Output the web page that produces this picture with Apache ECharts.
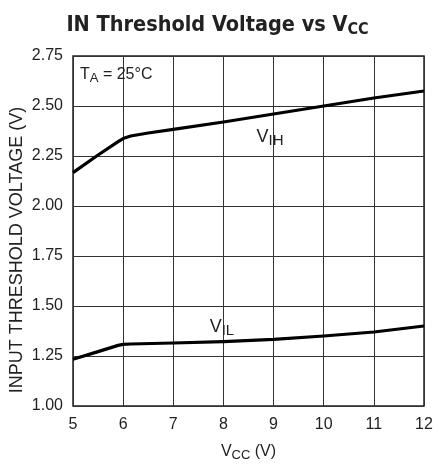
<!DOCTYPE html>
<html><head><meta charset="utf-8">
<script src="https://cdn.jsdelivr.net/npm/echarts@6/dist/echarts.min.js"></script>
<style>html,body{margin:0;padding:0;background:#fff}#c{width:435px;height:467px}</style>
</head><body><div id="c"></div>
<script>
const xTicks = [5, 6, 7, 8, 9, 10, 11, 12];
const yTicks = [1.00, 1.25, 1.50, 1.75, 2.00, 2.25, 2.50, 2.75];
const vihX = [5, 5.5, 5.9, 6, 6.15, 6.5, 7, 8, 9, 10, 11, 12];
const vihY = [2.167, 2.255, 2.322, 2.337, 2.35, 2.365, 2.383, 2.42, 2.46, 2.50, 2.54, 2.575];
const vilX = [5, 5.5, 5.9, 6, 6.15, 7, 8, 9, 10, 11, 12];
const vilY = [1.234, 1.272, 1.303, 1.308, 1.31, 1.315, 1.322, 1.333, 1.35, 1.37, 1.40];
const labelVIH = [8.93, 2.345];
const labelVIL = [7.97, 1.395];
const labelTA = [5.14, 2.655];

const FONT = 'Liberation Sans';
const chart = echarts.init(document.getElementById('c'));
const zip = (xs, ys) => xs.map((x, i) => [x, ys[i]]);
const txt = {fontFamily: FONT, fontSize: 16, color: '#222'};
const sub = {fontFamily: FONT, fontSize: 13, color: '#222', verticalAlign: 'bottom', padding: [7, 0, 0, 0]};
const big = {fontFamily: FONT, fontSize: 18, color: '#222'};
const bigSub = {fontFamily: FONT, fontSize: 15, color: '#222', verticalAlign: 'bottom', padding: [7, 0, 0, 0]};

chart.setOption({
  animation: false,
  title: {
    text: '{a|IN Threshold Voltage vs V}{s|CC}',
    left: 'center', top: 8,
    textStyle: {
      rich: {
        a: {fontFamily: '"DejaVu Sans Condensed"', fontWeight: 'bold', fontSize: 21.5, color: '#222'},
        s: {fontFamily: '"DejaVu Sans Condensed"', fontWeight: 'bold', fontSize: 16, color: '#222', verticalAlign: 'bottom', padding: [9, 0, 0, 0]}
      }
    }
  },
  grid: {left: 73, right: 11, top: 56, bottom: 61, show: true, borderColor: '#222', borderWidth: 1.5, outerBoundsMode: 'none', containLabel: false},
  xAxis: {
    type: 'value', min: 5, max: 12, interval: 1,
    axisLine: {show: false}, axisTick: {show: false},
    splitLine: {lineStyle: {color: '#333', width: 1}},
    axisLabel: {...txt, margin: 11, formatter: v => String(v)},
    name: '{a|V}{s|CC}{a| (V)}', nameLocation: 'middle', nameGap: 36, nameMoveOverlap: false,
    nameTextStyle: {rich: {a: txt, s: sub}}
  },
  yAxis: {
    type: 'value', min: 1, max: 2.75, interval: 0.25,
    axisLine: {show: false}, axisTick: {show: false},
    splitLine: {lineStyle: {color: '#333', width: 1}},
    axisLabel: {...txt, margin: 10, formatter: v => v.toFixed(2)},
    name: 'INPUT THRESHOLD VOLTAGE (V)', nameLocation: 'middle', nameGap: 47, nameMoveOverlap: false,
    nameTextStyle: {...txt, fontSize: 18, padding: [0, 38, 0, 0]}
  },
  series: [
    {
      type: 'line', data: zip(vihX, vihY), symbol: 'none', smooth: false,
      lineStyle: {color: '#000', width: 3.2, join: 'round'},
      markPoint: {
        symbolSize: 0,
        data: [
          {coord: labelVIH, label: {show: true, formatter: '{a|V}{s|IH}', rich: {a: big, s: bigSub}}},
          {coord: labelTA, label: {show: true, position: 'right', distance: 0, formatter: '{a|T}{s|A}{a| = 25°C}', rich: {a: txt, s: sub}}}
        ]
      }
    },
    {
      type: 'line', data: zip(vilX, vilY), symbol: 'none', smooth: false,
      lineStyle: {color: '#000', width: 3.2, join: 'round'},
      markPoint: {
        symbolSize: 0,
        data: [
          {coord: labelVIL, label: {show: true, formatter: '{a|V}{s|IL}', rich: {a: big, s: bigSub}}}
        ]
      }
    }
  ]
});
</script></body></html>
